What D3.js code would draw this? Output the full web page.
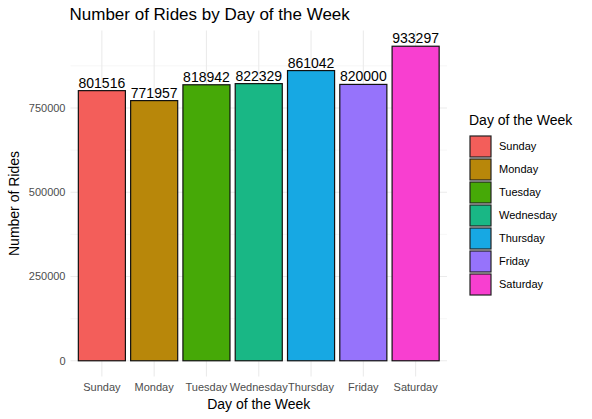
<!DOCTYPE html>
<html>
  <head>
    <meta charset="utf-8">
    <title>Number of Rides by Day of the Week</title>
    <script src="https://cdnjs.cloudflare.com/ajax/libs/d3/7.8.5/d3.min.js"></script>
    <style>
      body { margin: 0; background: #fff; }
      text { font-family: "Liberation Sans", Arial, sans-serif; }
    </style>
  </head>
  <body>

    <svg class="chart" width="592" height="419"></svg>

    <script>

      var days = ['Sunday', 'Monday', 'Tuesday', 'Wednesday', 'Thursday', 'Friday', 'Saturday'];
      var rides = [801516, 771957, 818942, 822329, 861042, 820000, 933297];
      var colors = ['#F35E5A', '#B8870A', '#46A907', '#19B785', '#17A8E3', '#9673FB', '#F83FD0'];
      var yTicks = [0, 250000, 500000, 750000];

      var panel = { left: 70.5, right: 447, top: 30.5, bottom: 376.5 };

      var svg = d3.select("svg.chart");

      // x: 7 bands, ggplot style expansion of 0.6 on each side
      var step = (panel.right - panel.left) / (days.length - 1 + 1.2);
      var x = d3.scalePoint()
        .domain(days)
        .range([panel.left + 0.6 * step, panel.right - 0.6 * step]);

      var maxV = d3.max(rides);
      var y = d3.scaleLinear()
        .domain([-0.05 * maxV, 1.05 * maxV])
        .range([panel.bottom, panel.top]);

      var grid = svg.append("g").attr("class", "grid");

      // minor grid lines
      var minor = d3.range(125000, maxV * 1.05, 250000);
      grid.selectAll("line.minor")
        .data(minor)
        .enter().append("line")
          .attr("x1", panel.left).attr("x2", panel.right)
          .attr("y1", function(d){ return y(d); })
          .attr("y2", function(d){ return y(d); })
          .attr("stroke", "#f0f0f0").attr("stroke-width", 0.55);

      grid.selectAll("line.major")
        .data(yTicks)
        .enter().append("line")
          .attr("x1", panel.left).attr("x2", panel.right)
          .attr("y1", function(d){ return y(d); })
          .attr("y2", function(d){ return y(d); })
          .attr("stroke", "#ebebeb").attr("stroke-width", 1.1);

      grid.selectAll("line.vert")
        .data(days)
        .enter().append("line")
          .attr("x1", function(d){ return x(d); })
          .attr("x2", function(d){ return x(d); })
          .attr("y1", panel.top).attr("y2", panel.bottom)
          .attr("stroke", "#ebebeb").attr("stroke-width", 1.1);

      var barW = step * 0.9;

      svg.append("g").selectAll("rect")
        .data(days)
        .enter().append("rect")
          .attr("x", function(d){ return x(d) - barW / 2; })
          .attr("width", barW)
          .attr("y", function(d, i){ return y(rides[i]); })
          .attr("height", function(d, i){ return y(0) - y(rides[i]); })
          .attr("fill", function(d, i){ return colors[i]; })
          .attr("stroke", "#111")
          .attr("stroke-width", 1.2);

      svg.append("g").selectAll("text")
        .data(days)
        .enter().append("text")
          .attr("x", function(d){ return x(d); })
          .attr("y", function(d, i){ return y(rides[i]) - 3; })
          .attr("text-anchor", "middle")
          .attr("font-size", "14px")
          .attr("fill", "#000")
          .text(function(d, i){ return rides[i]; });

      // y tick labels
      svg.append("g").selectAll("text")
        .data(yTicks)
        .enter().append("text")
          .attr("x", panel.left - 5)
          .attr("y", function(d){ return y(d); })
          .attr("dy", "0.35em")
          .attr("text-anchor", "end")
          .attr("font-size", "11px")
          .attr("fill", "#4d4d4d")
          .text(function(d){ return d; });

      // x tick labels
      svg.append("g").selectAll("text")
        .data(days)
        .enter().append("text")
          .attr("x", function(d){ return x(d); })
          .attr("y", panel.bottom + 14)
          .attr("text-anchor", "middle")
          .attr("font-size", "11px")
          .attr("fill", "#4d4d4d")
          .text(function(d){ return d; });

      svg.append("text")
        .attr("x", (panel.left + panel.right) / 2)
        .attr("y", 409)
        .attr("text-anchor", "middle")
        .attr("font-size", "14px")
        .text("Day of the Week");

      svg.append("text")
        .attr("transform", "translate(19," + ((panel.top + panel.bottom) / 2) + ") rotate(-90)")
        .attr("text-anchor", "middle")
        .attr("font-size", "14px")
        .text("Number of Rides");

      svg.append("text")
        .attr("x", panel.left - 1)
        .attr("y", 20)
        .attr("font-size", "17px")
        .text("Number of Rides by Day of the Week");

      // legend
      var legend = svg.append("g").attr("transform", "translate(469, 125)");
      legend.append("text")
        .attr("x", 0).attr("y", 0)
        .attr("font-size", "14px")
        .text("Day of the Week");

      var keys = legend.selectAll("g.key")
        .data(days)
        .enter().append("g")
          .attr("class", "key")
          .attr("transform", function(d, i){ return "translate(0," + (10 + i * 23) + ")"; });

      keys.append("rect")
        .attr("x", 1).attr("y", 1)
        .attr("width", 21).attr("height", 21)
        .attr("fill", function(d, i){ return colors[i]; })
        .attr("stroke", "#222")
        .attr("stroke-width", 1.2);

      keys.append("text")
        .attr("x", 30).attr("y", 11.5)
        .attr("dy", "0.35em")
        .attr("font-size", "11px")
        .text(function(d){ return d; });

    </script>
  </body>
</html>
